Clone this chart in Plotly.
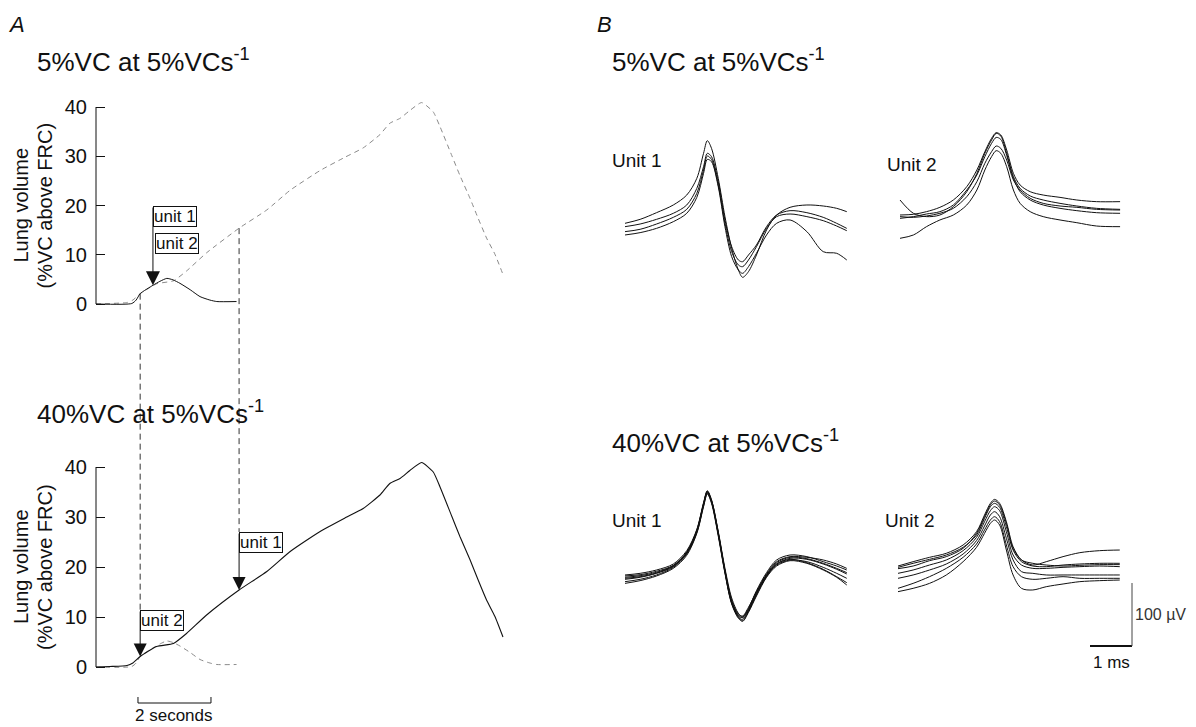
import numpy as np
import plotly.graph_objects as go

W, H = 1196, 727
FONT = "Liberation Sans, Arial, Helvetica, sans-serif"

# ---------------- Panel A data: time (s) vs lung volume (%VC above FRC)
ramp40_t = [0, 0.38, 0.85, 1.01, 1.21, 1.66, 2.12, 2.48, 3.03, 3.92, 4.68, 5.32, 6.14, 6.82,
            7.32, 7.78, 8.05, 8.33, 8.60, 8.92, 9.24, 9.42, 9.75, 9.97, 10.25, 10.47, 10.70,
            10.93, 11.15]
ramp40_v = [0, 0.1, 0.3, 0.8, 2.1, 4.1, 4.7, 6.7, 10.4, 15.4, 19.1, 23.1, 27.1, 29.8,
            31.7, 34.4, 36.7, 37.7, 39.3, 40.9, 39.0, 36.1, 30.1, 26.1, 21.4, 17.4, 13.4,
            10.1, 6.0]
ramp5_t = [0, 0.98, 1.10, 1.21, 1.56, 1.75, 1.94, 2.11, 2.30, 2.58, 2.85, 3.12, 3.31, 3.85]
ramp5_v = [0, 0.1, 0.8, 2.1, 3.8, 4.6, 5.2, 4.9, 4.2, 2.9, 1.5, 0.8, 0.5, 0.5]
yticks_A = [0, 10, 20, 30, 40]
unit1_t_40 = 3.92   # unit 1 onset on the 40% ramp (s)
unit2_t_40 = 1.21   # unit 2 onset on the 40% ramp (s)
units_t_5 = 1.56    # both units' onset on the 5% ramp (s)
time_bar_s = 2      # scale bar length (s)

# ---------------- Panel B data: time (ms) vs voltage (uV)
u1_ms = [0, 0.36, 0.75, 1.15, 1.47, 1.71, 1.87, 1.96, 2.06, 2.22, 2.38, 2.54, 2.70, 2.80,
         2.94, 3.13, 3.37, 3.61, 3.93, 4.33, 4.72, 5.04, 5.28]
top_u1 = [
    [10.6, 16.9, 27.5, 39.7, 55.5, 82.0, 121.7, 141.8, 129.6, 82.0, 21.2, -29.1, -63.5, -75.1,
     -66.1, -39.7, 0, 23.8, 36.0, 39.7, 38.1, 34.4, 29.1],
    [5.3, 9.5, 16.9, 26.5, 39.7, 66.1, 100.5, 121.7, 116.4, 76.7, 15.9, -26.5, -47.6, -50.3,
     -39.7, -23.8, 5.3, 23.8, 30.7, 27.5, 20.1, 10.6, 2.6],
    [-2.6, 1.1, 9.5, 20.1, 32.8, 58.2, 95.2, 117.4, 112.1, 71.4, 10.6, -34.4, -55.5, -58.2,
     -47.6, -26.5, 2.6, 21.2, 25.4, 21.2, 14.8, 6.3, -1.1],
    [-7.9, -4.2, 2.6, 13.2, 26.5, 51.8, 89.9, 112.1, 108.4, 68.8, 5.3, -42.3, -63.5, -68.8,
     -58.2, -37.0, -7.9, 10.6, 15.9, -2.6, -34.4, -37.0, -47.6],
]
u2_ms_top = [0, 0.32, 0.63, 0.95, 1.27, 1.59, 1.83, 2.02, 2.18, 2.29, 2.40, 2.54, 2.70, 2.86,
             3.10, 3.41, 3.81, 4.21, 4.68, 5.24]
top_u2 = [
    [23.8, 24.9, 29.1, 36.0, 47.6, 68.8, 95.2, 124.3, 145.5, 154.5, 150.8, 127.0, 89.9, 71.4,
     60.8, 55.5, 51.8, 47.6, 45.0, 45.0],
    [47.6, 26.5, 21.2, 23.8, 37.0, 60.8, 89.9, 121.7, 142.8, 153.4, 149.1, 121.7, 84.6, 66.1,
     54.0, 47.6, 42.3, 38.1, 34.4, 32.8],
    [21.2, 20.1, 22.2, 26.5, 34.4, 52.9, 76.7, 105.8, 124.3, 133.3, 129.6, 111.1, 79.4, 63.5,
     50.3, 42.3, 38.1, 36.0, 32.8, 31.7],
    [-13.2, -7.9, 5.3, 15.9, 23.8, 39.7, 63.5, 95.2, 116.4, 125.9, 121.7, 100.5, 63.5, 42.3,
     29.1, 21.2, 15.9, 11.6, 6.3, 5.3],
    [18.5, 21.2, 25.4, 29.1, 39.7, 63.5, 87.3, 116.4, 137.5, 146.9, 143.8, 118.5, 82.0, 60.8,
     47.6, 39.7, 34.4, 30.7, 27.5, 26.5],
]
bot_u1 = [
    [-7.9, -5.3, 0, 9.5, 30.7, 64.5, 106.9, 125.9, 111.1, 61.4, 2.6, -44.4, -68.8, -74.1,
     -60.8, -32.8, -4.2, 15.9, 23.8, 21.2, 13.2, 6.3, 0],
    [-11.6, -9.0, -3.7, 6.9, 28.0, 62.4, 104.7, 124.3, 109.5, 58.2, -1.1, -50.3, -74.1, -80.4,
     -66.1, -39.7, -10.6, 9.5, 18.5, 16.9, 9.5, 1.1, -6.3],
    [-14.8, -11.6, -5.3, 5.3, 26.5, 60.8, 103.2, 122.7, 108.4, 57.1, -2.6, -51.8, -75.1, -78.3,
     -64.5, -38.1, -9.5, 7.9, 15.9, 13.2, 4.2, -5.3, -13.2],
    [-18.5, -14.8, -7.9, 4.2, 25.4, 59.2, 101.6, 121.7, 107.4, 56.1, -4.2, -52.9, -73.0, -75.1,
     -62.4, -35.4, -7.9, 9.5, 16.9, 11.6, 1.1, -10.6, -20.1],
    [-9.5, -7.4, -2.1, 7.4, 28.6, 63.5, 105.8, 124.8, 111.1, 60.3, 0, -47.6, -69.8, -73.0,
     -59.2, -34.4, -6.3, 13.2, 21.2, 20.1, 15.9, 9.5, 2.6],
    [-13.2, -10.6, -4.8, 6.3, 27.0, 61.9, 104.2, 123.8, 109.0, 58.7, -2.1, -50.8, -71.4, -75.7,
     -63.5, -37.0, -8.5, 11.6, 20.1, 18.0, 10.6, 2.6, -4.2],
    [-21.2, -16.9, -9.5, 2.6, 23.3, 58.2, 100.5, 120.6, 105.8, 54.0, -5.3, -54.0, -76.7, -81.5,
     -67.2, -41.3, -11.6, 6.3, 14.8, 10.6, 0, -11.6, -23.8],
]
u2_ms_bot = [0, 0.36, 0.75, 1.15, 1.55, 1.87, 2.06, 2.20, 2.30, 2.42, 2.58, 2.74, 2.94, 3.21,
             3.53, 3.93, 4.33, 4.80, 5.28]
bot_u2 = [
    [6.3, 13.2, 20.1, 26.5, 39.7, 60.8, 87.3, 105.8, 112.1, 105.8, 76.7, 37.0, 15.9, 7.9, 13.2,
     21.2, 27.5, 30.7, 31.7],
    [4.2, 10.6, 16.9, 23.8, 36.0, 55.5, 81.9, 100.5, 105.8, 99.5, 68.8, 31.7, 13.2, 6.3, 5.3,
     7.9, 9.5, 10.6, 10.6],
    [-5.3, 0, 7.9, 15.9, 30.7, 51.8, 76.7, 94.2, 100.5, 94.2, 60.8, 23.8, 7.9, 2.6, 2.6, 4.2,
     5.3, 6.3, 5.3],
    [-13.2, -7.9, 0, 9.5, 25.4, 46.6, 69.8, 87.3, 92.6, 84.6, 50.3, 15.9, -2.6, -5.3, -7.9,
     -7.9, -7.9, -7.9, -7.9],
    [-29.1, -21.2, -10.6, 2.6, 20.1, 41.3, 63.5, 79.4, 84.6, 76.7, 39.7, 5.3, -10.6, -14.8,
     -13.2, -10.6, -13.2, -13.2, -13.2],
    [-34.4, -29.1, -21.2, -7.9, 13.2, 36.0, 58.2, 74.1, 79.4, 71.4, 31.7, -7.9, -29.1, -31.7,
     -26.5, -22.2, -18.5, -16.9, -15.9],
    [2.1, 6.3, 14.8, 21.2, 34.4, 58.2, 84.6, 103.2, 109.5, 103.2, 74.1, 34.4, 15.9, 10.6, 7.9,
     6.3, 7.4, 8.5, 8.5],
]
scale_ms = 1
scale_uv = 100


# ---------------- helpers (pixel layout -> paper)
def px_x(px):
    return px / W


def px_y(px):
    return 1 - px / H


# Panel A geometry
A_L, A_R = 96, 520
PX_PER_S = 36.5
TOP_ZERO, TOP_PPU, TOP_DOM = 304, 4.925, (90, 316)
BOT_ZERO, BOT_PPU, BOT_DOM = 667, 5.0, (450, 679)


def yrange(dom, zero, ppu):
    return [(zero - dom[1]) / ppu, (zero - dom[0]) / ppu]


def top_px(v):
    return TOP_ZERO - v * TOP_PPU


def bot_px(v):
    return BOT_ZERO - v * BOT_PPU


# Panel B geometry
PX_PER_MS, PX_PER_UV = 42.0, 0.63
B_SUBS = {
    "3": dict(dom_x=(605, 870), dom_y=(115, 300), org=(625, 230)),
    "4": dict(dom_x=(882, 1160), dom_y=(115, 300), org=(900, 230)),
    "5": dict(dom_x=(605, 870), dom_y=(470, 660), org=(625, 570)),
    "6": dict(dom_x=(880, 1170), dom_y=(470, 662), org=(898, 570)),
}

fig = go.Figure()

black = "#111111"
grey = "#8a8a8a"

# Panel A traces
fig.add_trace(go.Scatter(x=ramp40_t, y=ramp40_v, xaxis="x", yaxis="y", mode="lines",
                         line=dict(color=grey, width=1, dash="5px,4px", shape="spline", smoothing=0.5),
                         hoverinfo="skip"))
fig.add_trace(go.Scatter(x=ramp5_t, y=ramp5_v, xaxis="x", yaxis="y", mode="lines",
                         line=dict(color=black, width=1, shape="spline", smoothing=0.6),
                         hoverinfo="skip"))
fig.add_trace(go.Scatter(x=ramp5_t, y=ramp5_v, xaxis="x2", yaxis="y2", mode="lines",
                         line=dict(color=grey, width=1, dash="5px,4px", shape="spline", smoothing=0.6),
                         hoverinfo="skip"))
fig.add_trace(go.Scatter(x=ramp40_t, y=ramp40_v, xaxis="x2", yaxis="y2", mode="lines",
                         line=dict(color=black, width=1.1, shape="spline", smoothing=0.5),
                         hoverinfo="skip"))

# Panel B traces
for key, xs, sets in [("3", u1_ms, top_u1), ("4", u2_ms_top, top_u2),
                      ("5", u1_ms, bot_u1), ("6", u2_ms_bot, bot_u2)]:
    for ys in sets:
        fig.add_trace(go.Scatter(x=xs, y=ys, xaxis="x" + key, yaxis="y" + key, mode="lines",
                                 line=dict(color=black, width=1, shape="spline", smoothing=0.9),
                                 hoverinfo="skip"))

layout = dict(
    width=W, height=H, autosize=False,
    margin=dict(l=0, r=0, t=0, b=0),
    paper_bgcolor="white", plot_bgcolor="rgba(0,0,0,0)",
    showlegend=False,
    font=dict(family=FONT, color=black),
)

yax_common = dict(tickvals=yticks_A, ticks="inside", ticklen=9, tickwidth=1, tickcolor=black,
                  showline=False, showgrid=False, zeroline=False,
                  tickfont=dict(size=20, family=FONT, color=black), ticklabelstandoff=8)
xr = [0, (A_R - A_L) / PX_PER_S]
layout["xaxis"] = dict(domain=[px_x(A_L), px_x(A_R)], range=xr, visible=False, anchor="y")
layout["xaxis2"] = dict(domain=[px_x(A_L), px_x(A_R)], range=xr, visible=False, anchor="y2")
layout["yaxis"] = dict(domain=[px_y(TOP_DOM[1]), px_y(TOP_DOM[0])],
                       range=yrange(TOP_DOM, TOP_ZERO, TOP_PPU), anchor="x", **yax_common)
layout["yaxis2"] = dict(domain=[px_y(BOT_DOM[1]), px_y(BOT_DOM[0])],
                        range=yrange(BOT_DOM, BOT_ZERO, BOT_PPU), anchor="x2", **yax_common)

for key, g in B_SUBS.items():
    (dl, dr), (dt, db), (x0, y0) = g["dom_x"], g["dom_y"], g["org"]
    layout["xaxis" + key] = dict(domain=[px_x(dl), px_x(dr)],
                                 range=[(dl - x0) / PX_PER_MS, (dr - x0) / PX_PER_MS],
                                 visible=False, anchor="y" + key)
    layout["yaxis" + key] = dict(domain=[px_y(db), px_y(dt)],
                                 range=[(y0 - db) / PX_PER_UV, (y0 - dt) / PX_PER_UV],
                                 visible=False, anchor="x" + key)

shapes = []
# vertical axis lines 0..40
for yref in ("y", "y2"):
    shapes.append(dict(type="line", xref="paper", yref=yref, x0=px_x(A_L), x1=px_x(A_L),
                       y0=yticks_A[0], y1=yticks_A[-1], line=dict(color=black, width=1)))

# boxes positions (pixel tops)
top_u1_box, top_u2_box = 206, 233
bot_u2_box, bot_u1_box = 610, 532

# dashed connectors from top panel down to bottom boxes
v_top_u2 = float(np.interp(unit2_t_40, ramp5_t, ramp5_v))
v_top_u1 = float(np.interp(unit1_t_40, ramp40_t, ramp40_v))
for t, vtop, box in [(unit2_t_40, v_top_u2, bot_u2_box), (unit1_t_40, v_top_u1, bot_u1_box)]:
    shapes.append(dict(type="line", xref="x", yref="paper", x0=t, x1=t,
                       y0=px_y(top_px(vtop)), y1=px_y(box),
                       line=dict(color="#333333", width=1, dash="6px,4px")))

# 2 s scale bar
bar_t0 = 1.15
bar_y = 703
shapes.append(dict(type="line", xref="x2", yref="paper", x0=bar_t0, x1=bar_t0 + time_bar_s,
                   y0=px_y(bar_y), y1=px_y(bar_y), line=dict(color=black, width=1)))
for tt in (bar_t0, bar_t0 + time_bar_s):
    shapes.append(dict(type="line", xref="x2", yref="paper", x0=tt, x1=tt,
                       y0=px_y(bar_y), y1=px_y(bar_y - 6), line=dict(color=black, width=1)))

# B scale bars (in unit-2 bottom axes)
sb_x = (1132 - B_SUBS["6"]["org"][0]) / PX_PER_MS
sb_y = (B_SUBS["6"]["org"][1] - 646) / PX_PER_UV
shapes.append(dict(type="line", xref="x6", yref="y6", x0=sb_x - scale_ms, x1=sb_x,
                   y0=sb_y, y1=sb_y, line=dict(color=black, width=2)))
shapes.append(dict(type="line", xref="x6", yref="y6", x0=sb_x, x1=sb_x,
                   y0=sb_y, y1=sb_y + scale_uv, line=dict(color="#444444", width=1)))
layout["shapes"] = shapes

ann = []


def text(x, y, s, size, xanchor="left", yanchor="middle", italic=False, angle=0, color=black):
    ann.append(dict(x=x, y=y, xref="paper", yref="paper", text=s, showarrow=False,
                    xanchor=xanchor, yanchor=yanchor, textangle=angle,
                    font=dict(size=size, family=FONT, color=color,
                              style="italic" if italic else "normal")))


text(px_x(6), px_y(24), "A", 22, italic=True)
text(px_x(595), px_y(24), "B", 22, italic=True)
text(px_x(35), px_y(61), "5%VC at 5%VCs<sup>-1</sup>", 26)
text(px_x(35), px_y(412), "40%VC at 5%VCs<sup>-1</sup>", 26)
text(px_x(610), px_y(61), "5%VC at 5%VCs<sup>-1</sup>", 26)
text(px_x(610), px_y(441), "40%VC at 5%VCs<sup>-1</sup>", 26)
for cy in ((TOP_ZERO + top_px(40)) / 2, (BOT_ZERO + bot_px(40)) / 2):
    text(px_x(21), px_y(cy), "Lung volume", 20, xanchor="center", angle=-90)
    text(px_x(45), px_y(cy), "(%VC above FRC)", 20, xanchor="center", angle=-90)

text(px_x(610), px_y(160), "Unit 1", 19)
text(px_x(885), px_y(164), "Unit 2", 19)
text(px_x(610), px_y(520), "Unit 1", 19)
text(px_x(883), px_y(520), "Unit 2", 19)


def box(xref, t, top, s):
    ann.append(dict(x=t, y=px_y(top), xref=xref, yref="paper", text=s, showarrow=False,
                    xanchor="left", yanchor="top", bgcolor="white", bordercolor=black,
                    borderwidth=1, borderpad=0, font=dict(size=17, family=FONT, color=black)))


def arrow(xref, yref, t, v, tip_px, tail_px, size):
    ann.append(dict(x=t, y=v, xref=xref, yref=yref, text="", showarrow=True,
                    ax=0, ay=tail_px - tip_px, arrowhead=2, arrowsize=size, arrowwidth=1,
                    arrowcolor=black))


v5 = float(np.interp(units_t_5, ramp5_t, ramp5_v))
arrow("x", "y", units_t_5, v5, top_px(v5), top_u1_box, 2.8)
box("x", units_t_5, top_u1_box, "unit 1")
box("x", units_t_5 + 0.05, top_u2_box, "unit 2")

v_b2 = float(np.interp(unit2_t_40, ramp40_t, ramp40_v))
v_b1 = float(np.interp(unit1_t_40, ramp40_t, ramp40_v))
arrow("x2", "y2", unit2_t_40, v_b2, bot_px(v_b2), bot_u2_box, 2.6)
arrow("x2", "y2", unit1_t_40, v_b1, bot_px(v_b1), bot_u1_box, 2.6)
box("x2", unit2_t_40, bot_u2_box, "unit 2")
box("x2", unit1_t_40, bot_u1_box, "unit 1")

# scale bar labels
ann.append(dict(x=bar_t0 + time_bar_s / 2, y=px_y(715), xref="x2", yref="paper", text="2 seconds",
                showarrow=False, xanchor="center", yanchor="middle",
                font=dict(size=17, family=FONT, color=black)))
ann.append(dict(x=sb_x, y=sb_y + scale_uv / 2, xref="x6", yref="y6", text="100 µV", showarrow=False,
                xanchor="left", yanchor="middle", xshift=1,
                font=dict(size=16, family=FONT, color="#333333")))
ann.append(dict(x=sb_x - scale_ms / 2, y=sb_y, xref="x6", yref="y6", text="1 ms", showarrow=False,
                xanchor="center", yanchor="top", yshift=-5,
                font=dict(size=17, family=FONT, color=black)))

layout["annotations"] = ann
fig.update_layout(**layout)
fig.write_html("out.html", config={"displayModeBar": False},
               post_script="document.body.style.margin='0px';document.body.style.overflow='hidden';")
